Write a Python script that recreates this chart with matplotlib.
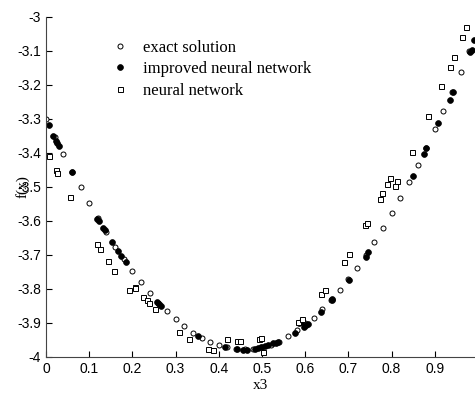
import matplotlib
matplotlib.use("Agg")
import matplotlib.pyplot as plt
import numpy as np

# exact solution
exact_x = [0.00, 0.02, 0.04, 0.06, 0.08, 0.10, 0.12, 0.14, 0.16, 0.18,
           0.20, 0.22, 0.24, 0.26, 0.28, 0.30, 0.32, 0.34, 0.36, 0.38,
           0.40, 0.42, 0.44, 0.46, 0.48, 0.50, 0.52, 0.54, 0.56, 0.58,
           0.60, 0.62, 0.64, 0.66, 0.68, 0.70, 0.72, 0.74, 0.76, 0.78,
           0.80, 0.82, 0.84, 0.86, 0.88, 0.90, 0.92, 0.94, 0.96, 0.98]
exact_y = [-3.300, -3.352, -3.403, -3.455, -3.500, -3.548, -3.592, -3.633, -3.675, -3.711,
           -3.746, -3.779, -3.812, -3.840, -3.865, -3.888, -3.909, -3.928, -3.943, -3.956,
           -3.965, -3.972, -3.975, -3.977, -3.976, -3.972, -3.965, -3.955, -3.939, -3.921,
           -3.900, -3.884, -3.859, -3.833, -3.804, -3.772, -3.737, -3.700, -3.662, -3.621,
           -3.576, -3.532, -3.485, -3.435, -3.384, -3.329, -3.276, -3.220, -3.162, -3.100]

# improved neural network
inn_x = [0.006, 0.017, 0.023, 0.026, 0.029, 0.060, 0.119, 0.122, 0.133, 0.136,
         0.153, 0.167, 0.174, 0.185, 0.258, 0.262, 0.266, 0.352, 0.415, 0.443,
         0.457, 0.465, 0.483, 0.491, 0.498, 0.507, 0.513, 0.525, 0.532, 0.538,
         0.576, 0.586, 0.590, 0.597, 0.601, 0.606, 0.637, 0.661, 0.663, 0.701,
         0.740, 0.746, 0.850, 0.876, 0.879, 0.908, 0.934, 0.942, 0.981, 0.985, 0.991]
inn_y = [-3.317, -3.350, -3.366, -3.372, -3.378, -3.456, -3.593, -3.599, -3.620, -3.626,
         -3.663, -3.687, -3.702, -3.722, -3.837, -3.844, -3.849, -3.938, -3.971, -3.977,
         -3.979, -3.979, -3.977, -3.974, -3.971, -3.968, -3.965, -3.960, -3.958, -3.955,
         -3.928, -3.899, -3.896, -3.912, -3.906, -3.903, -3.869, -3.832, -3.829, -3.774,
         -3.707, -3.692, -3.467, -3.403, -3.384, -3.312, -3.243, -3.221, -3.103, -3.097, -3.068]

# neural network
nn_x = [0.008, 0.022, 0.026, 0.056, 0.117, 0.125, 0.143, 0.157, 0.191, 0.205,
        0.207, 0.225, 0.233, 0.238, 0.252, 0.309, 0.332, 0.376, 0.387, 0.420,
        0.443, 0.449, 0.492, 0.498, 0.503, 0.584, 0.593, 0.637, 0.646, 0.690,
        0.701, 0.739, 0.744, 0.773, 0.778, 0.790, 0.797, 0.808, 0.813, 0.848,
        0.884, 0.914, 0.935, 0.944, 0.963, 0.972]
nn_y = [-3.409, -3.450, -3.460, -3.529, -3.668, -3.683, -3.717, -3.747, -3.802, -3.793,
        -3.796, -3.824, -3.833, -3.842, -3.858, -3.926, -3.947, -3.975, -3.979, -3.946,
        -3.952, -3.952, -3.946, -3.943, -3.986, -3.898, -3.887, -3.816, -3.803, -3.720,
        -3.697, -3.611, -3.606, -3.535, -3.519, -3.490, -3.474, -3.497, -3.483, -3.397,
        -3.292, -3.204, -3.148, -3.119, -3.060, -3.030]

x_ticks = [0, 0.1, 0.2, 0.3, 0.4, 0.5, 0.6, 0.7, 0.8, 0.9]
y_ticks = [-4, -3.9, -3.8, -3.7, -3.6, -3.5, -3.4, -3.3, -3.2, -3.1, -3]

serif = ["Liberation Serif", "DejaVu Serif"]
sans = ["Liberation Sans", "DejaVu Sans"]

fig = plt.figure(figsize=(4.75, 3.94), dpi=100)
ax = fig.add_axes([46 / 475, 37 / 394, 1 - 46 / 475, 340 / 394])

ax.plot(exact_x, exact_y, linestyle="none", marker="o", markersize=3.6,
        markerfacecolor="white", markeredgecolor="black", markeredgewidth=0.7,
        label="exact solution")
ax.plot(inn_x, inn_y, linestyle="none", marker="o", markersize=4.2,
        markerfacecolor="black", markeredgecolor="black", markeredgewidth=0.5,
        label="improved neural network")
ax.plot(nn_x, nn_y, linestyle="none", marker="s", markersize=3.6,
        markerfacecolor="white", markeredgecolor="black", markeredgewidth=0.7,
        label="neural network")

ax.set_xlim(0, 0.993)
ax.set_ylim(-4, -3)
ax.set_xticks(x_ticks)
ax.set_xticklabels([f"{v:g}" for v in x_ticks], family=sans, fontsize=10)
ax.set_yticks(y_ticks)
ax.set_yticklabels([f"{v:g}" for v in y_ticks], family=sans, fontsize=10)
ax.tick_params(direction="in", length=4, width=0.8, colors="black")
for side in ["top", "right"]:
    ax.spines[side].set_visible(False)
for side in ["left", "bottom"]:
    ax.spines[side].set_color("#444444")
    ax.spines[side].set_linewidth(0.8)

ax.set_xlabel("x3", family=serif, fontsize=11, labelpad=2)
ax.set_ylabel("f(x)", family=serif, fontsize=11, labelpad=-9)

leg = ax.legend(loc="upper left", bbox_to_anchor=(0.128, 0.952), frameon=False,
                prop={"family": serif, "size": 12}, handletextpad=0.65,
                labelspacing=0.32, handlelength=1.5, borderaxespad=0)

fig.savefig("out.png", dpi=100)
